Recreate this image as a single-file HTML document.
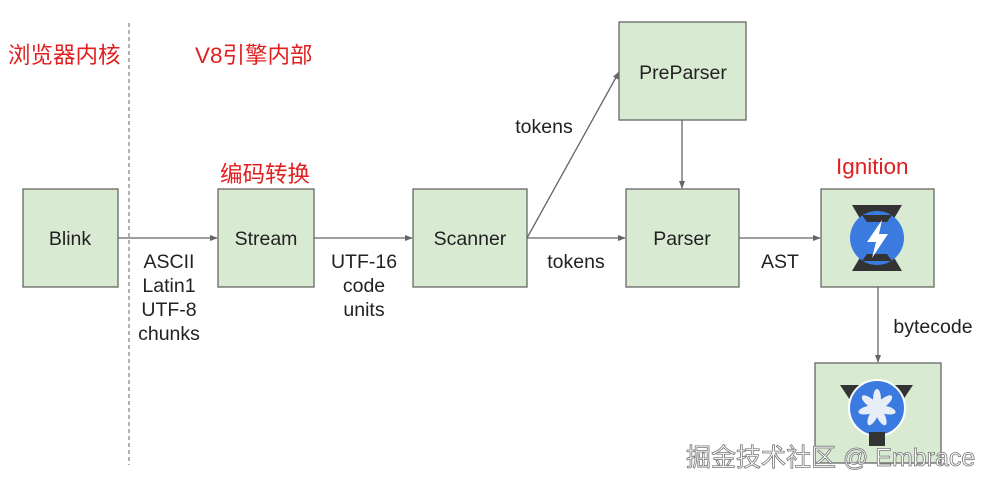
<!DOCTYPE html>
<html><head><meta charset="utf-8"><style>
body{margin:0;background:#fff;width:993px;height:487px;overflow:hidden}
svg text{font-family:"Liberation Sans","Noto Sans CJK SC",sans-serif}
</style></head><body>
<svg width="993" height="487" viewBox="0 0 993 487" xmlns="http://www.w3.org/2000/svg">
<defs><marker id="a" markerWidth="8" markerHeight="8" refX="7" refY="4" orient="auto" markerUnits="userSpaceOnUse"><path d="M0,1 L8,4 L0,7z" fill="#666"/></marker></defs>
<line x1="129" y1="23" x2="129" y2="465" stroke="#666" stroke-dasharray="4,3"/>
<g fill="#d9ead3" stroke="#666" stroke-width="1.3">
<rect x="23" y="189" width="95" height="98"/>
<rect x="218" y="189" width="96" height="98"/>
<rect x="413" y="189" width="114" height="98"/>
<rect x="626" y="189" width="113" height="98"/>
<rect x="619" y="22" width="127" height="98"/>
<rect x="821" y="189" width="113" height="98"/>
<rect x="815" y="363" width="126" height="100"/>
</g>
<g stroke="#666" stroke-width="1.3" fill="none" marker-end="url(#a)">
<line x1="118" y1="238" x2="217" y2="238"/>
<line x1="314" y1="238" x2="412" y2="238"/>
<line x1="527" y1="238" x2="625" y2="238"/>
<line x1="527" y1="238" x2="619" y2="72"/>
<line x1="682" y1="120" x2="682" y2="188"/>
<line x1="739" y1="238" x2="820" y2="238"/>
<line x1="878" y1="287" x2="878" y2="362"/>
</g>
<g font-size="19.5" fill="#222" text-anchor="middle">
<text x="70" y="245">Blink</text>
<text x="266" y="245">Stream</text>
<text x="470" y="245">Scanner</text>
<text x="682" y="245">Parser</text>
<text x="683" y="79">PreParser</text>
<text x="169" y="268">ASCII</text>
<text x="169" y="292">Latin1</text>
<text x="169" y="316">UTF-8</text>
<text x="169" y="340">chunks</text>
<text x="364" y="268">UTF-16</text>
<text x="364" y="292">code</text>
<text x="364" y="316">units</text>
<text x="544" y="133">tokens</text>
<text x="576" y="268">tokens</text>
<text x="780" y="268">AST</text>
<text x="933" y="333">bytecode</text>
</g>
<g font-size="22.5" fill="#e02020">
<text x="8" y="63">浏览器内核</text>
<text x="195" y="63">V8引擎内部</text>
<text x="220" y="182">编码转换</text>
<text x="836" y="174">Ignition</text>
</g>
<!-- ignition icon -->
<path d="M852,205 L902,205 L892,222 L862,222z" fill="#333"/>
<path d="M852,271 L902,271 L892,254 L862,254z" fill="#333"/>
<circle cx="877" cy="238" r="27" fill="#3b7be0"/>
<path d="M862,215 L892,215 L887,222 L867,222z" fill="#333"/>
<path d="M862,261 L892,261 L887,254 L867,254z" fill="#333"/>
<path d="M882,220 L867,242 L876,242 L872,258 L888,234 L879,234z" fill="#fff"/>
<!-- turbofan icon -->
<path d="M840,385 L913,385 L903,400 L850,400z" fill="#333"/>
<circle cx="877" cy="408" r="28" fill="#3b7be0" stroke="#fff" stroke-width="2"/>
<rect x="869" y="432" width="16" height="14" fill="#333"/>
<g fill="#e8eef8" transform="translate(877,408)">
<ellipse cx="0" cy="-9" rx="4" ry="10" transform="rotate(0)"/>
<ellipse cx="0" cy="-9" rx="4" ry="10" transform="rotate(51)"/>
<ellipse cx="0" cy="-9" rx="4" ry="10" transform="rotate(103)"/>
<ellipse cx="0" cy="-9" rx="4" ry="10" transform="rotate(154)"/>
<ellipse cx="0" cy="-9" rx="4" ry="10" transform="rotate(206)"/>
<ellipse cx="0" cy="-9" rx="4" ry="10" transform="rotate(257)"/>
<ellipse cx="0" cy="-9" rx="4" ry="10" transform="rotate(309)"/>
</g>
<text x="686" y="466" font-size="25" fill="#fff" stroke="#777" stroke-width="0.8">掘金技术社区 @ Embrace</text>
</svg>
</body></html>
